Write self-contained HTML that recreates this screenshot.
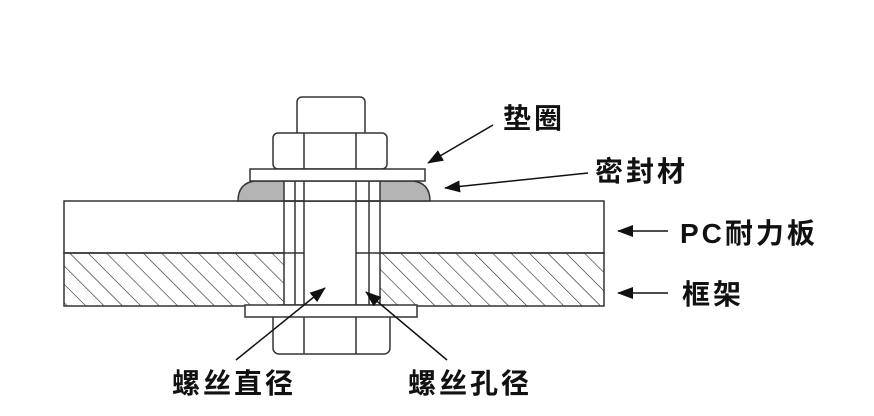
<!DOCTYPE html>
<html><head><meta charset="utf-8"><style>
body{margin:0;background:#fff;}
svg{display:block}
text{font-family:"Liberation Sans","Noto Sans CJK SC",sans-serif;font-weight:bold;fill:#111;font-size:28px;letter-spacing:3px}
</style></head><body>
<svg width="874" height="416" viewBox="0 0 874 416" xmlns="http://www.w3.org/2000/svg">
<defs>
<pattern id="h" width="13" height="13" patternUnits="userSpaceOnUse" patternTransform="rotate(-45)">
<line x1="0" y1="0" x2="0" y2="13" stroke="#222" stroke-width="1.2"/>
</pattern>
<marker id="b" markerWidth="16" markerHeight="12" refX="15" refY="6" orient="auto" markerUnits="userSpaceOnUse">
<path d="M0,0 L16,6 L0,12 z" fill="#111"/></marker>
</defs>
<g stroke="#333" stroke-width="1.5" fill="#fff">
<rect x="64" y="201" width="540" height="52"/>
<rect x="64" y="253" width="540" height="53" fill="url(#h)"/>
<rect x="284" y="201" width="96" height="105" fill="#fff"/>
<line x1="284" y1="253" x2="304" y2="253"/><line x1="356" y1="253" x2="380" y2="253"/>
<path d="M238,201 Q238,183 255,181 L413,181 Q430,183 430,201 Z" fill="#b4b4b4"/>
<rect x="284" y="181" width="96" height="20" fill="#fff"/>
<line x1="284" y1="201" x2="304" y2="201"/><line x1="356" y1="201" x2="380" y2="201"/>
<rect x="297" y="97" width="68" height="40" rx="5"/>
<rect x="273" y="133" width="114" height="36" rx="5"/>
<line x1="304" y1="133" x2="304" y2="169"/><line x1="356" y1="133" x2="356" y2="169"/>
<rect x="250" y="169" width="175" height="12"/>
<line x1="295" y1="181" x2="295" y2="305"/><line x1="369" y1="181" x2="369" y2="305"/>
<line x1="304" y1="181" x2="304" y2="305"/><line x1="356" y1="181" x2="356" y2="305"/>
<rect x="273" y="305" width="117" height="49" rx="6"/>
<line x1="304" y1="317" x2="304" y2="354"/><line x1="356" y1="317" x2="356" y2="354"/>
<rect x="245" y="305" width="172" height="12"/>
</g>
<g stroke="#111" stroke-width="1.5" fill="none">
<line x1="493" y1="125" x2="428" y2="163" marker-end="url(#b)"/>
<line x1="588" y1="173" x2="445" y2="188" marker-end="url(#b)"/>
<line x1="668" y1="231" x2="618" y2="231" marker-end="url(#b)"/>
<line x1="668" y1="293" x2="618" y2="293" marker-end="url(#b)"/>
<line x1="236" y1="360" x2="325" y2="288" marker-end="url(#b)"/>
<line x1="447" y1="360" x2="366" y2="292" marker-end="url(#b)"/>
</g>
<text x="503" y="128">垫圈</text>
<text x="595" y="181">密封材</text>
<text x="680" y="243">PC耐力板</text>
<text x="682" y="304">框架</text>
<text x="172" y="393">螺丝直径</text>
<text x="408" y="393">螺丝孔径</text>
</svg>
</body></html>
